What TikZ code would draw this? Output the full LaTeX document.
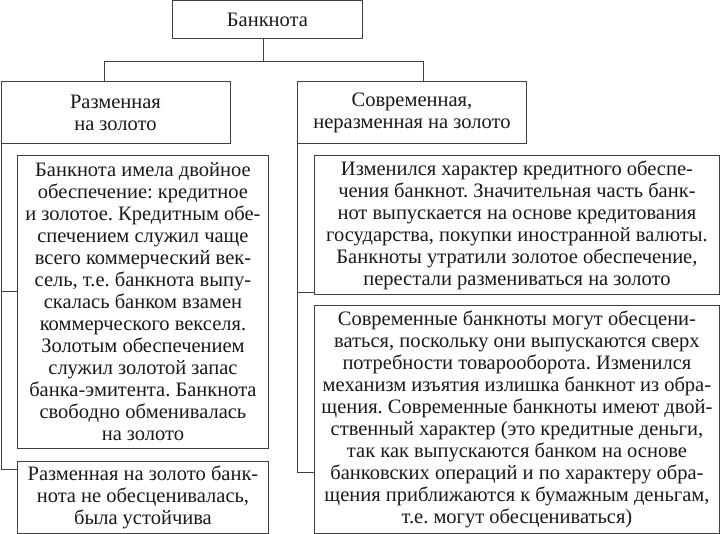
\documentclass[tikz,border=0pt]{standalone}
\usepackage{fontspec}
\setmainfont{Liberation Serif}
\frenchspacing

\begin{document}
\begin{tikzpicture}[x=1pt,y=-1pt,
  box/.style={draw=black!75, line width=0.9pt, align=center, anchor=north west,
    inner sep=0pt, text=black!90, font=\fontsize{20.5}{22}\selectfont},
  link/.style={draw=black!75, line width=0.9pt}]
\useasboundingbox (0,0) rectangle (720,534);
\node[box, minimum width=190pt, minimum height=38pt] (banknote) at (172,0.5) {Банкнота};
\node[box, minimum width=229pt, minimum height=62pt] (exch) at (0.5,81) {Разменная\\на золото};
\node[box, minimum width=229pt, minimum height=62pt] (modern) at (297,81) {Современная,\\неразменная на золото};
\node[box, minimum width=251pt, minimum height=293pt] (exchA) at (17,155) {Банкнота имела двойное\\
обеспечение: кредитное\\
и золотое. Кредитным обе-\\
спечением служил чаще\\
всего коммерческий век-\\
сель, т.е. банкнота выпу-\\
скалась банком взамен\\
коммерческого векселя.\\
Золотым обеспечением\\
служил золотой запас\\
банка-эмитента. Банкнота\\
свободно обменивалась\\
на золото};
\node[box, minimum width=251pt, minimum height=72pt] (exchB) at (17,461) {Разменная на золото банк-\\
нота не обесценивалась,\\
была устойчива};
\node[box, minimum width=405pt, minimum height=139pt] (modernA) at (314,155) {Изменился характер кредитного обеспе-\\
чения банкнот. Значительная часть банк-\\
нот выпускается на основе кредитования\\
государства, покупки иностранной валюты.\\
Банкноты утратили золотое обеспечение,\\
перестали размениваться на золото};
\node[box, minimum width=405pt, minimum height=228pt] (modernB) at (314,305) {Современные банкноты могут обесцени-\\
ваться, поскольку они выпускаются сверх\\
потребности товарооборота. Изменился\\
механизм изъятия излишка банкнот из обра-\\
щения. Современные банкноты имеют двой-\\
ственный характер (это кредитные деньги,\\
так как выпускаются банком на основе\\
банковских операций и по характеру обра-\\
щения приближаются к бумажным деньгам,\\
т.е. могут обесцениваться)};
\draw[link] ([xshift=-4pt]banknote.south) -- ++(0,22) -| ([xshift=-11.5pt]exch.north);
\draw[link] ([xshift=-4pt]banknote.south) -- ++(0,22) -| ([xshift=11.5pt]modern.north);
\draw[link] ([xshift=1pt]exch.south west) |- ([yshift=10.5pt]exchA.west);
\draw[link] ([xshift=1pt]exch.south west) |- ([yshift=28pt]exchB.west);
\draw[link] ([xshift=0.5pt]modern.south west) |- ([yshift=-67.5pt]modernA.west);
\draw[link] ([xshift=0.5pt]modern.south west) |- ([yshift=-53pt]modernB.west);
\end{tikzpicture}
\end{document}
